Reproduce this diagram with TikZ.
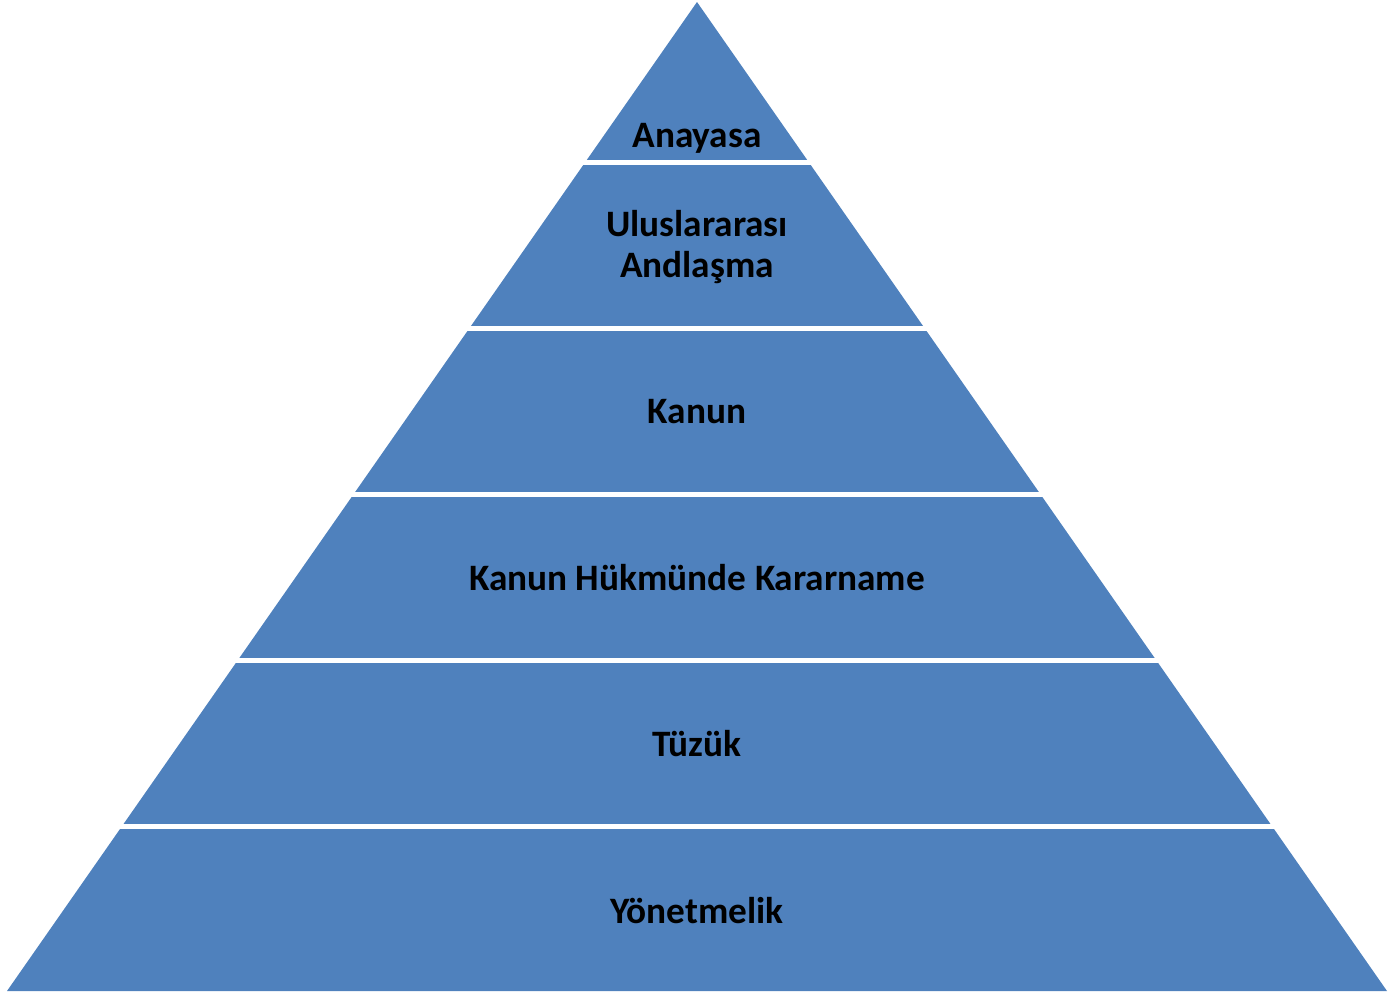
\documentclass[tikz,border=0pt]{standalone}
\usepackage{fontspec}
\setmainfont{Carlito}
\definecolor{pyrblue}{HTML}{4F81BD}
\tikzset{
  layer/.style={fill=pyrblue, draw=none},
  gap/.style={draw=white, line width=5pt},
  lbl/.style={font=\fontsize{37.3}{41}\selectfont\bfseries, text=black, align=center, inner sep=0pt, anchor=center}
}
\begin{document}
\begin{tikzpicture}[x=1pt,y=-1pt]
\useasboundingbox (0,0) rectangle (1396,993);
\coordinate (apex) at (697,2);
\coordinate (bl) at (7,991);
\coordinate (br) at (1387,991);
\fill[layer] (apex) -- (br) -- (bl) -- cycle;
\foreach \y in {162.5,328.5,494.5,660.5,826.5}{
  \draw[gap] (0,\y) -- (1396,\y);
}
\node[lbl] (l1) at (697,138) {Anayasa};
\node[lbl] (l2) at (697,247) {Uluslararası\\Andlaşma};
\node[lbl] (l3) at (697,412) {Kanun};
\node[lbl] (l4) at (697,578) {Kanun Hükmünde Kararname};
\node[lbl] (l5) at (697,744) {Tüzük};
\node[lbl] (l6) at (697,911) {Yönetmelik};
\end{tikzpicture}
\end{document}
